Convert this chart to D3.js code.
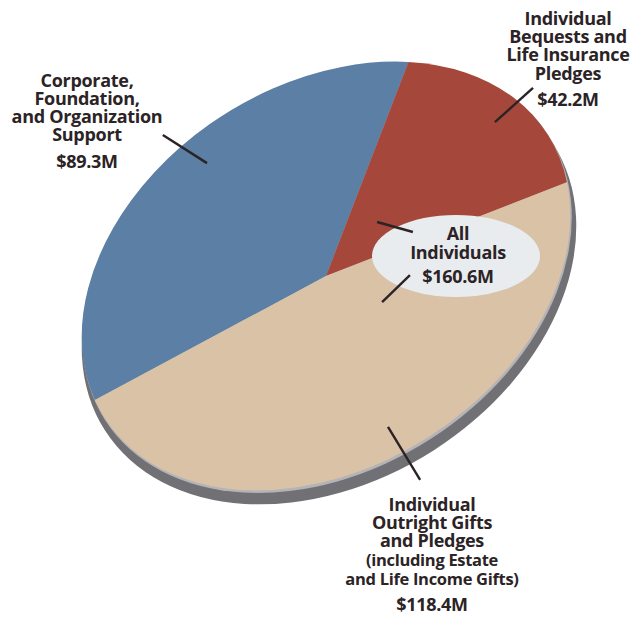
<!DOCTYPE html>
<meta charset="utf-8">
<style>
    body { margin: 0; background: #fff; }
    svg { display: block; background: #fff; }
    text { font-family: "Open Sans", Lato, sans-serif; font-weight: 700; fill: #2b2325; text-anchor: middle; }
    .leader { stroke: #2b2325; stroke-width: 2.4; fill: none; }
</style>
<svg width="634" height="617"></svg>
<script src="https://d3js.org/d3.v7.min.js"></script>
<script>
    // values in $M, same order as the slices go round clockwise
    var categories = ["Corporate, Foundation, and Organization Support",
                      "Individual Bequests and Life Insurance Pledges",
                      "Individual Outright Gifts and Pledges (including Estate and Life Income Gifts)"];
    var values = [89.3, 42.2, 118.4];
    var valueLabels = ["$89.3M", "$42.2M", "$118.4M"];
    var colors = ["#5b7fa5", "#a5473a", "#d9c2a6"];
    var totalLabel = "$160.6M"; // all individuals = bequests + outright

    var svg = d3.select("svg"),
        cx = 326, cy = 276,   // centre of the tilted disc
        A = 263, B = 191,     // semi axes after the tilt
        tilt = -32.6,
        R = 100;

    var pie = d3.pie().sort(null)
        .startAngle(-84 * Math.PI / 180)
        .endAngle(276 * Math.PI / 180);
    var arc = d3.arc().innerRadius(0).outerRadius(R);

    var discTransform = "translate(" + cx + "," + cy + ") rotate(" + tilt + ") scale(" + (A / R) + "," + (B / R) + ")";

    // side of the disc (thickness)
    svg.append("ellipse")
        .attr("transform", "translate(" + (cx + 3) + "," + (cy + 11) + ") rotate(" + tilt + ")")
        .attr("rx", A + 3).attr("ry", B + 3)
        .attr("fill", "#707075");
    svg.append("ellipse")
        .attr("transform", "translate(" + (cx + 1) + "," + (cy + 2) + ") rotate(" + tilt + ")")
        .attr("rx", A + 0.5).attr("ry", B + 0.5)
        .attr("fill", "#b4b4b8");

    var disc = svg.append("g").attr("transform", discTransform);
    var slices = pie(values);
    disc.selectAll("path")
        .data(slices)
        .enter().append("path")
        .attr("d", arc)
        .attr("fill", function (d, i) { return colors[i]; });

    // map a pie angle (deg, d3 convention) and radius fraction to the page
    function project(deg, frac) {
        var p = d3.pointRadial(deg * Math.PI / 180, frac),
            u = p[0] * A, v = p[1] * B,
            t = tilt * Math.PI / 180;
        return [cx + u * Math.cos(t) - v * Math.sin(t), cy + u * Math.sin(t) + v * Math.cos(t)];
    }

    var leaders = [
        [[-10.2, 0.847], [-12.2, 1.107]],
        [[76.7, 0.880], [76.8, 1.077]],
        [[71.1, 0.290], [97.9, 0.372]],
        [[155.2, 0.301], [130.7, 0.357]],
        [[187.5, 0.848], [185.7, 1.171]]
    ];

    // "All Individuals" bubble
    svg.append("ellipse")
        .attr("cx", 456).attr("cy", 256)
        .attr("rx", 84).attr("ry", 41)
        .attr("fill", "#e9ecef");

    svg.selectAll(".leader")
        .data(leaders)
        .enter().append("line")
        .attr("class", "leader")
        .attr("x1", function (d) { return project(d[0][0], d[0][1])[0]; })
        .attr("y1", function (d) { return project(d[0][0], d[0][1])[1]; })
        .attr("x2", function (d) { return project(d[1][0], d[1][1])[0]; })
        .attr("y2", function (d) { return project(d[1][0], d[1][1])[1]; });

    var blocks = [
        { x: 87, lines: [["Corporate,", 87], ["Foundation,", 105], ["and Organization", 123], ["Support", 141], [valueLabels[0], 168]] },
        { x: 568, lines: [["Individual", 25], ["Bequests and", 43], ["Life Insurance", 61], ["Pledges", 80], [valueLabels[1], 106]] },
        { x: 458, lines: [["All", 240], ["Individuals", 259], [totalLabel, 283]] },
        { x: 432, lines: [["Individual", 511], ["Outright Gifts", 529], ["and Pledges", 547], ["(including Estate", 566, 16.5], ["and Life Income Gifts)", 585, 16.5], [valueLabels[2], 611]] }
    ];

    blocks.forEach(function (b) {
        b.lines.forEach(function (l) {
            svg.append("text")
                .attr("x", b.x)
                .attr("y", l[1])
                .style("font-size", (l[2] || 18) + "px")
                .style("letter-spacing", "-0.3px")
                .text(l[0]);
        });
    });
</script>
